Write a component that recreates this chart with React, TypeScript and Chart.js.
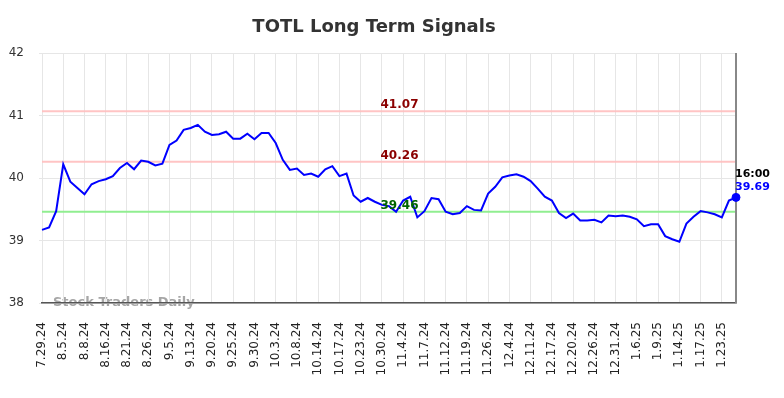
import React, { useEffect, useRef } from "react";
import { Chart, registerables } from "chart.js";

Chart.register(...registerables);

const dateLabels = [
  "7.29.24", "8.5.24", "8.8.24", "8.16.24", "8.21.24", "8.26.24", "9.5.24", "9.13.24",
  "9.20.24", "9.25.24", "9.30.24", "10.3.24", "10.8.24", "10.14.24", "10.17.24", "10.23.24",
  "10.30.24", "11.4.24", "11.7.24", "11.12.24", "11.19.24", "11.26.24", "12.4.24", "12.11.24",
  "12.17.24", "12.20.24", "12.26.24", "12.31.24", "1.6.25", "1.9.25", "1.14.25", "1.17.25", "1.23.25",
];

const closes = [
  39.17, 39.21, 39.47, 40.22, 39.94, 39.84, 39.74, 39.90, 39.95, 39.98,
  40.03, 40.16, 40.24, 40.14, 40.28, 40.26, 40.20, 40.23, 40.53, 40.60,
  40.77, 40.80, 40.85, 40.74, 40.69, 40.70, 40.74, 40.63, 40.63, 40.71,
  40.62, 40.72, 40.72, 40.56, 40.29, 40.13, 40.15, 40.05, 40.07, 40.02,
  40.14, 40.19, 40.03, 40.07, 39.72, 39.62, 39.68, 39.62, 39.57, 39.55,
  39.46, 39.64, 39.70, 39.37, 39.47, 39.68, 39.66, 39.46, 39.42, 39.44,
  39.55, 39.49, 39.48, 39.75, 39.86, 40.01, 40.04, 40.06, 40.02, 39.95,
  39.83, 39.70, 39.64, 39.44, 39.36, 39.43, 39.32, 39.32, 39.33, 39.29,
  39.40, 39.39, 39.40, 39.38, 39.34, 39.23, 39.26, 39.26, 39.07, 39.02,
  38.98, 39.27, 39.38, 39.47, 39.45, 39.42, 39.37, 39.64, 39.69,
];

const resistanceLevels = [41.07, 40.26];
const supportLevels = [39.46];
const yMin = 38;
const yMax = 42;
const pointsPerLabel = 3;
const lastTime = "16:00";
const chartTitle = "TOTL Long Term Signals";
const watermark = "Stock Traders Daily";

const FONT = '"DejaVu Sans", sans-serif';

const overlayPlugin = {
  id: "overlay",
  beforeDraw(chart: any) {
    const { ctx, chartArea } = chart;
    ctx.save();
    ctx.font = `bold 13px ${FONT}`;
    ctx.fillStyle = "rgba(150,150,150,0.85)";
    ctx.textAlign = "left";
    ctx.textBaseline = "middle";
    ctx.fillText(watermark, chartArea.left + 11, chartArea.bottom);
    ctx.restore();
  },
  beforeDatasetsDraw(chart: any) {
    const { ctx, chartArea, scales } = chart;
    const y = scales.y;
    const x = scales.x;
    ctx.save();
    ctx.lineWidth = 2;
    resistanceLevels.forEach((lv) => {
      const py = y.getPixelForValue(lv);
      ctx.strokeStyle = "rgba(255,190,190,0.9)";
      ctx.beginPath();
      ctx.moveTo(chartArea.left, py);
      ctx.lineTo(chartArea.right, py);
      ctx.stroke();
    });
    supportLevels.forEach((lv) => {
      const py = y.getPixelForValue(lv);
      ctx.strokeStyle = "#90ee90";
      ctx.beginPath();
      ctx.moveTo(chartArea.left, py);
      ctx.lineTo(chartArea.right, py);
      ctx.stroke();
    });
    const lx = x.getPixelForValue(closes.length - 1);
    ctx.strokeStyle = "#888888";
    ctx.lineWidth = 2;
    ctx.beginPath();
    ctx.moveTo(lx, chartArea.top);
    ctx.lineTo(lx, chartArea.bottom);
    ctx.stroke();
    ctx.restore();
  },
  afterDatasetsDraw(chart: any) {
    const { ctx, scales } = chart;
    const y = scales.y;
    const x = scales.x;
    const cx = 399.5;
    ctx.save();
    ctx.font = `bold 12px ${FONT}`;
    ctx.textAlign = "center";
    ctx.textBaseline = "alphabetic";
    resistanceLevels.forEach((lv) => {
      ctx.fillStyle = "#8b0000";
      ctx.fillText(lv.toFixed(2), cx, y.getPixelForValue(lv) - 3);
    });
    supportLevels.forEach((lv) => {
      ctx.fillStyle = "#006400";
      ctx.fillText(lv.toFixed(2), cx, y.getPixelForValue(lv) - 3);
    });
    const last = closes[closes.length - 1];
    const px = x.getPixelForValue(closes.length - 1);
    const py = y.getPixelForValue(last);
    ctx.font = `bold 11px ${FONT}`;
    ctx.textAlign = "left";
    ctx.fillStyle = "#000000";
    ctx.fillText(lastTime, px - 1, py - 20);
    ctx.fillStyle = "#0000ff";
    ctx.fillText(last.toFixed(2), px - 1, py - 7);
    ctx.restore();
  },
  afterDraw(chart: any) {
    const { ctx } = chart;
    ctx.save();
    ctx.font = `bold 18px ${FONT}`;
    ctx.fillStyle = "#333333";
    ctx.textAlign = "center";
    ctx.textBaseline = "alphabetic";
    ctx.fillText(chartTitle, 374, 32);
    ctx.restore();
  },
};

export default function App() {
  const canvasRef = useRef<HTMLCanvasElement | null>(null);

  useEffect(() => {
    document.body.style.margin = "0";
    const canvas = canvasRef.current;
    if (!canvas) return;
    const lastIdx = closes.length - 1;
    const chart = new Chart(canvas, {
      type: "line",
      data: {
        datasets: [
          {
            data: closes.map((v, i) => ({ x: i, y: v })),
            borderColor: "#0000ff",
            backgroundColor: "#0000ff",
            borderWidth: 2,
            tension: 0,
            fill: false,
            clip: false,
            pointRadius: (ctx: any) => (ctx.dataIndex === lastIdx ? 4 : 0),
            pointBackgroundColor: "#0000ff",
            pointBorderColor: "#0000ff",
            pointBorderWidth: 1,
          },
        ],
      },
      options: {
        responsive: false,
        animation: false,
        events: [],
        layout: { padding: { left: 0, right: 48, top: 53, bottom: 0 } },
        plugins: {
          legend: { display: false },
          title: { display: false },
          tooltip: { enabled: false },
        },
        scales: {
          x: {
            type: "linear",
            min: 0,
            max: lastIdx,
            afterFit: (s: any) => {
              s.height = 95;
            },
            grid: { color: "#e6e6e6", lineWidth: 1, drawTicks: false },
            border: { display: true, color: "#555555", width: 1.5 },
            ticks: {
              stepSize: pointsPerLabel,
              includeBounds: false,
              autoSkip: false,
              minRotation: 90,
              maxRotation: 90,
              padding: 19,
              color: "#222222",
              font: { family: FONT, size: 12 },
              callback: (v: any) => {
                const n = Math.round(Number(v));
                if (n % pointsPerLabel !== 0) return "";
                return dateLabels[n / pointsPerLabel] ?? "";
              },
            },
          },
          y: {
            min: yMin,
            max: yMax,
            afterFit: (s: any) => {
              s.width = 42;
            },
            grid: { color: "#e6e6e6", lineWidth: 1, tickLength: 3 },
            border: { display: false },
            ticks: {
              stepSize: 1,
              padding: 15,
              color: "#333333",
              font: { family: FONT, size: 12 },
            },
          },
        },
      },
      plugins: [overlayPlugin],
    });
    return () => chart.destroy();
  }, []);

  return (
    <div style={{ position: "absolute", left: 0, top: 0, width: 784, height: 398 }}>
      <canvas ref={canvasRef} width={784} height={398} style={{ width: 784, height: 398 }} />
    </div>
  );
}
